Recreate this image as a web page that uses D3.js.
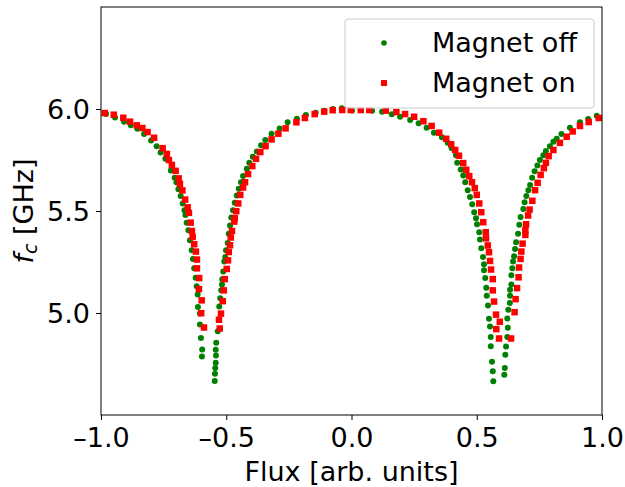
<!DOCTYPE html>
<html>
<head>
<meta charset="utf-8">
<script src="https://cdn.jsdelivr.net/npm/d3@7"></script>
<style>
body { margin: 0; background: #fff; }
text { font-family: "DejaVu Sans", sans-serif; fill: #000; }
</style>
</head>
<body>
<svg width="625" height="487"></svg>
<script>
// flux [arb. units], f_c [GHz]
const magnetOff = [
  [-0.980,5.975],[-0.944,5.958],[-0.908,5.938],[-0.881,5.920],[-0.855,5.903],[-0.828,5.877],[-0.800,5.846],[-0.778,5.818],
  [-0.762,5.787],[-0.743,5.756],[-0.721,5.699],[-0.706,5.663],[-0.699,5.641],[-0.691,5.607],[-0.682,5.573],[-0.674,5.537],
  [-0.667,5.504],[-0.663,5.481],[-0.658,5.442],[-0.651,5.406],[-0.645,5.357],[-0.638,5.307],[-0.633,5.265],[-0.628,5.219],
  [-0.622,5.173],[-0.618,5.131],[-0.614,5.091],[-0.613,5.029],[-0.605,4.997],[-0.605,4.944],[-0.601,4.877],[-0.596,4.821],
  [-0.597,4.787],
  [-0.546,4.667],[-0.545,4.702],[-0.544,4.731],[-0.542,4.756],[-0.541,4.792],[-0.542,4.820],[-0.540,4.854],[-0.534,4.910],
  [-0.529,4.967],[-0.528,5.032],[-0.524,5.072],[-0.520,5.111],[-0.517,5.140],[-0.516,5.166],[-0.512,5.203],[-0.508,5.252],
  [-0.504,5.275],[-0.501,5.307],[-0.494,5.343],[-0.490,5.389],[-0.485,5.429],[-0.480,5.468],[-0.473,5.504],[-0.466,5.540],
  [-0.458,5.576],[-0.450,5.609],[-0.441,5.641],[-0.433,5.671],[-0.418,5.707],[-0.408,5.736],[-0.394,5.766],[-0.378,5.792],
  [-0.361,5.822],[-0.344,5.848],[-0.319,5.879],[-0.287,5.905],[-0.255,5.935],[-0.218,5.952],[-0.182,5.971],[-0.143,5.982],
  [-0.109,5.992],[-0.074,6.000],[-0.039,6.004],[0.002,5.993],[0.037,5.995],[0.082,5.992],[0.122,5.986],[0.161,5.974],
  [0.194,5.962],[0.234,5.946],[0.268,5.930],[0.300,5.908],[0.329,5.884],[0.361,5.862],[0.384,5.834],[0.400,5.808],
  [0.417,5.773],[0.422,5.736],[0.436,5.704],[0.446,5.674],[0.454,5.641],[0.464,5.602],[0.473,5.569],[0.482,5.533],
  [0.490,5.494],[0.497,5.465],[0.501,5.435],[0.510,5.396],[0.513,5.360],[0.518,5.317],[0.525,5.275],[0.529,5.239],
  [0.529,5.209],[0.534,5.171],[0.538,5.124],[0.540,5.085],[0.545,5.037],[0.549,4.972],[0.553,4.934],[0.556,4.882],
  [0.556,4.837],[0.561,4.761],[0.564,4.715],[0.566,4.665],
  [0.610,4.697],[0.612,4.731],[0.614,4.795],[0.617,4.836],[0.622,4.882],[0.624,4.928],[0.622,4.973],[0.626,5.016],
  [0.632,5.049],[0.633,5.085],[0.633,5.114],[0.638,5.140],[0.638,5.185],[0.642,5.219],[0.645,5.252],[0.649,5.278],
  [0.653,5.314],[0.657,5.347],[0.665,5.389],[0.670,5.432],[0.675,5.471],[0.686,5.510],[0.691,5.543],[0.698,5.573],
  [0.706,5.602],[0.713,5.628],[0.721,5.663],[0.731,5.695],[0.742,5.723],[0.752,5.750],[0.766,5.773],[0.776,5.794],
  [0.792,5.818],[0.806,5.839],[0.819,5.854],[0.838,5.877],[0.872,5.908],[0.912,5.935],[0.945,5.951],[0.979,5.967]
];

const magnetOn = [
  [-0.985,5.980],[-0.949,5.972],[-0.911,5.957],[-0.884,5.938],[-0.857,5.920],[-0.835,5.907],[-0.814,5.887],[-0.788,5.859],
  [-0.754,5.808],[-0.737,5.780],[-0.729,5.750],[-0.717,5.726],[-0.702,5.697],[-0.690,5.660],[-0.685,5.633],[-0.675,5.601],
  [-0.664,5.556],[-0.654,5.518],[-0.649,5.491],[-0.642,5.443],[-0.637,5.402],[-0.634,5.373],[-0.628,5.337],[-0.621,5.301],
  [-0.617,5.262],[-0.617,5.219],[-0.608,5.171],[-0.609,5.117],[-0.598,5.062],[-0.600,4.999],[-0.589,4.929],
  [-0.526,4.924],[-0.529,4.967],[-0.521,4.997],[-0.514,5.058],[-0.510,5.111],[-0.506,5.166],[-0.498,5.216],[-0.493,5.258],
  [-0.490,5.299],[-0.485,5.332],[-0.482,5.370],[-0.477,5.402],[-0.468,5.448],[-0.466,5.465],[-0.460,5.499],[-0.452,5.537],
  [-0.444,5.579],[-0.433,5.615],[-0.425,5.641],[-0.413,5.681],[-0.396,5.720],[-0.381,5.756],[-0.364,5.789],[-0.343,5.818],
  [-0.319,5.851],[-0.292,5.879],[-0.263,5.905],[-0.220,5.935],[-0.186,5.956],[-0.147,5.975],[-0.109,5.987],[-0.075,5.994],
  [-0.037,5.995],[-0.003,5.995],[0.037,5.995],[0.071,5.995],[0.137,5.992],[0.179,5.985],[0.214,5.975],
  [0.250,5.962],[0.287,5.940],[0.320,5.917],[0.350,5.884],[0.378,5.854],[0.398,5.827],[0.414,5.799],[0.429,5.771],
  [0.446,5.735],[0.458,5.702],[0.470,5.671],[0.481,5.641],[0.492,5.612],[0.500,5.579],[0.510,5.537],[0.518,5.494],
  [0.526,5.445],[0.536,5.396],[0.537,5.366],[0.544,5.331],[0.549,5.298],[0.553,5.255],[0.557,5.213],[0.564,5.166],
  [0.564,5.111],[0.569,5.056],[0.577,4.992],[0.592,4.957],[0.578,4.921],[0.589,4.875],
  [0.637,4.875],[0.651,5.004],[0.655,5.068],[0.661,5.122],[0.667,5.175],[0.669,5.223],[0.675,5.265],[0.678,5.301],
  [0.683,5.340],[0.694,5.383],[0.694,5.406],[0.697,5.435],[0.705,5.478],[0.711,5.507],[0.722,5.550],[0.733,5.602],
  [0.743,5.638],[0.755,5.677],[0.768,5.710],[0.776,5.736],[0.787,5.769],[0.806,5.799],[0.832,5.834],[0.859,5.864],
  [0.883,5.890],[0.912,5.917],[0.947,5.936],[0.987,5.956]
];

const xTicks = [-1.0, -0.5, 0.0, 0.5, 1.0];
const yTicks = [5.0, 5.5, 6.0];
const legendLabels = ["Magnet off", "Magnet on"];

const svg = d3.select("svg");
const pLeft = 101, pRight = 602, pTop = 7, pBottom = 415;

const x = d3.scaleLinear().domain([-1, 1]).range([pLeft, pRight]);
const y = d3.scaleLinear().domain([4.5, 6.5]).range([pBottom, pTop]);

const fmt = d => d3.format(".1f")(d).replace("\u2212", "\u2013");

// axes
const xAxis = svg.append("g")
    .attr("transform", `translate(0,${pBottom})`)
    .call(d3.axisBottom(x).tickValues(xTicks).tickSize(5).tickPadding(6).tickFormat(fmt));
const yAxis = svg.append("g")
    .attr("transform", `translate(${pLeft},0)`)
    .call(d3.axisLeft(y).tickValues(yTicks).tickSize(5).tickPadding(6).tickFormat(fmt));

[xAxis, yAxis].forEach(g => {
    g.attr("font-family", null).attr("font-size", null);
    g.select(".domain").remove();
    g.selectAll(".tick line").attr("stroke", "#000").attr("stroke-width", 1);
    g.selectAll(".tick text").style("font-size", "27px");
});
xAxis.selectAll(".tick text").attr("dy", "0.76em");
yAxis.selectAll(".tick text").attr("dy", "0.36em");

// points
svg.append("clipPath").attr("id", "plot")
    .append("rect").attr("x", pLeft).attr("y", pTop).attr("width", pRight - pLeft).attr("height", pBottom - pTop);

const pts = svg.append("g").attr("clip-path", "url(#plot)");

pts.selectAll("circle")
    .data(magnetOff)
    .enter()
    .append("circle")
    .attr("cx", d => x(d[0]))
    .attr("cy", d => y(d[1]))
    .attr("r", 3)
    .style("fill", "green");

const sq = 6.5;
pts.selectAll("rect")
    .data(magnetOn)
    .enter()
    .append("rect")
    .attr("x", d => x(d[0]) - sq / 2)
    .attr("y", d => y(d[1]) - sq / 2)
    .attr("width", sq)
    .attr("height", sq)
    .style("fill", "red");

// frame
svg.append("rect")
    .attr("x", pLeft).attr("y", pTop)
    .attr("width", pRight - pLeft).attr("height", pBottom - pTop)
    .style("fill", "none").style("stroke", "#000").style("stroke-width", 1);

// axis labels
svg.append("text")
    .attr("x", (pLeft + pRight) / 2).attr("y", 481)
    .attr("text-anchor", "middle")
    .style("font-size", "27px")
    .text("Flux [arb. units]");

const yl = svg.append("text")
    .attr("transform", `translate(33,${(pTop + pBottom) / 2}) rotate(-90)`)
    .attr("text-anchor", "middle")
    .style("font-size", "27px");
yl.append("tspan").style("font-style", "italic").text("f");
yl.append("tspan").style("font-style", "italic").style("font-size", "19px").attr("dy", 4).text("c");
yl.append("tspan").attr("dy", -4).text("\u00a0[GHz]");

// legend
const lg = svg.append("g");
lg.append("rect")
    .attr("x", 345).attr("y", 19).attr("width", 249).attr("height", 89).attr("rx", 3)
    .style("fill", "#fff").style("fill-opacity", 0.8)
    .style("stroke", "#ccc").style("stroke-width", 1);
lg.append("circle").attr("cx", 384).attr("cy", 43).attr("r", 2.8).style("fill", "green");
lg.append("rect").attr("x", 384 - 3).attr("y", 83 - 3).attr("width", 6).attr("height", 6).style("fill", "red");
lg.selectAll("text.lab")
    .data(legendLabels)
    .enter()
    .append("text")
    .attr("class", "lab")
    .attr("x", 432)
    .attr("y", (d, i) => 52 + i * 40)
    .style("font-size", "27px")
    .text(d => d);
</script>
</body>
</html>
